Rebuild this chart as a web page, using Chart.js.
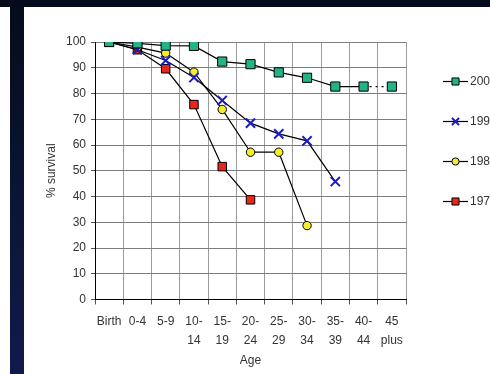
<!DOCTYPE html>
<html>
<head>
<meta charset="utf-8">
<script src="https://cdn.jsdelivr.net/npm/chart.js@4/dist/chart.umd.min.js"></script>
<style>
  html, body { margin: 0; padding: 0; background: #fff; }
  #wrap { position: relative; width: 490px; height: 374px; overflow: hidden; background: #fff; }
  #topband { position: absolute; left: 0; top: 0; width: 490px; height: 7px; background: #050b1a; }
  #sideband { position: absolute; left: 10px; top: 7px; width: 14px; height: 367px;
              background: linear-gradient(#050c1a, #0b1536 55%, #111a4c); }
  canvas { position: absolute; left: 0; top: 0; }
</style>
</head>
<body>
<div id="wrap">
  <div id="topband"></div>
  <div id="sideband"></div>
  <canvas id="c" width="490" height="374" style="width:490px;height:374px"></canvas>
</div>
<script>
// Age bands on the x axis
const ageGroups = ['Birth', '0-4', '5-9', ['10-', '14'], ['15-', '19'], ['20-', '24'],
                   ['25-', '29'], ['30-', '34'], ['35-', '39'], ['40-', '44'], ['45', 'plus']];

// Percentage still alive at each age, by cohort
const survival2000 = [100, 99.5, 98.6, 98.5, 92.4, 91.4, 88.2, 86.1, 82.7, 82.7, 82.7];
const survival1990 = [100, 97, 92.8, 86.2, 77.3, 68.5, 64.3, 61.6, 45.8, null, null];
const survival1980 = [100, 98, 95.7, 88.3, 73.8, 57.2, 57.2, 28.7, null, null, null];
const survival1970 = [100, 97, 89.6, 75.7, 51.6, 38.7, null, null, null, null, null];

const seriesNames = ['200', '199', '198', '197'];
const yTickValues = [0, 10, 20, 30, 40, 50, 60, 70, 80, 90, 100];

const FONT = "'Liberation Sans', Arial, sans-serif";

const datasets = [
  { label: seriesNames[0], data: survival2000, pointStyle: 'rect', pointRadius: 6.5,
    pointBackgroundColor: '#22b486', pointBorderColor: '#000', pointBorderWidth: 1,
    segment: { borderDash: c => c.p1DataIndex === 10 ? [2, 4] : undefined } },
  { label: seriesNames[1], data: survival1990, pointStyle: 'crossRot', pointRadius: 6.5,
    pointBackgroundColor: '#1c1cc4', pointBorderColor: '#1c1cc4', pointBorderWidth: 2 },
  { label: seriesNames[2], data: survival1980, pointStyle: 'circle', pointRadius: 4.2,
    pointBackgroundColor: '#f4ec2c', pointBorderColor: '#000', pointBorderWidth: 1 },
  { label: seriesNames[3], data: survival1970, pointStyle: 'rect', pointRadius: 6,
    pointBackgroundColor: '#e8261c', pointBorderColor: '#000', pointBorderWidth: 1 }
].map(d => Object.assign({
  borderColor: '#000', borderWidth: 1.2, fill: false, tension: 0,
  spanGaps: false, pointHoverRadius: 6
}, d));

// Legend drawn beside the plot: short line with the series marker, then its name
const sideLegend = {
  id: 'sideLegend',
  afterDraw(chart) {
    const { ctx, chartArea } = chart;
    const x0 = chartArea.right + 37, x1 = chartArea.right + 62;
    const mid = (x0 + x1) / 2;
    chart.data.datasets.forEach((ds, i) => {
      const y = chartArea.top + 39.5 + i * 40;
      ctx.save();
      ctx.strokeStyle = '#000';
      ctx.lineWidth = 1.2;
      ctx.beginPath(); ctx.moveTo(x0, y); ctx.lineTo(x1, y); ctx.stroke();
      ctx.fillStyle = ds.pointBackgroundColor;
      ctx.strokeStyle = ds.pointBorderColor;
      ctx.lineWidth = ds.pointBorderWidth;
      Chart.helpers.drawPoint(ctx, {
        pointStyle: ds.pointStyle,
        radius: ds.pointStyle === 'circle' ? 3.6 : 5,
        rotation: 0, borderWidth: ds.pointBorderWidth
      }, mid, y);
      ctx.fillStyle = '#333';
      ctx.font = '12px ' + FONT;
      ctx.textBaseline = 'middle';
      ctx.textAlign = 'left';
      ctx.fillText(ds.label, x1 + 2, y);
      ctx.restore();
    });
  }
};

new Chart(document.getElementById('c'), {
  type: 'line',
  data: { labels: ageGroups, datasets },
  options: {
    responsive: false,
    animation: false,
    layout: { padding: { left: 30, top: 42, right: 84, bottom: 4.5 } },
    plugins: { legend: { display: false }, tooltip: { enabled: false } },
    scales: {
      x: {
        offset: true,
        grid: { offset: true, color: '#9c9c9c', lineWidth: 1, tickLength: 5, tickColor: '#555' },
        border: { color: '#000', width: 1 },
        ticks: { color: '#333', autoSkip: false, maxRotation: 0, padding: 8,
                 font: { family: FONT, size: 12, lineHeight: 1.55 } },
        title: { display: true, text: 'Age', color: '#333',
                 font: { family: FONT, size: 12 }, padding: { top: 0, bottom: 1.3 } },
        afterFit: s => { s.height = 70; }
      },
      y: {
        min: 0, max: 100,
        afterBuildTicks: s => { s.ticks = yTickValues.map(v => ({ value: v })); },
        grid: { color: '#7c7c7c', lineWidth: 1, tickLength: 4, tickColor: '#555' },
        border: { color: '#000', width: 1 },
        ticks: { color: '#333', padding: 5, font: { family: FONT, size: 12 } },
        title: { display: true, text: '% survival', color: '#333',
                 font: { family: FONT, size: 12 }, padding: { top: 14.8, bottom: 0 } },
        afterFit: s => { s.width = 65; }
      }
    }
  },
  plugins: [sideLegend]
});
</script>
</body>
</html>
